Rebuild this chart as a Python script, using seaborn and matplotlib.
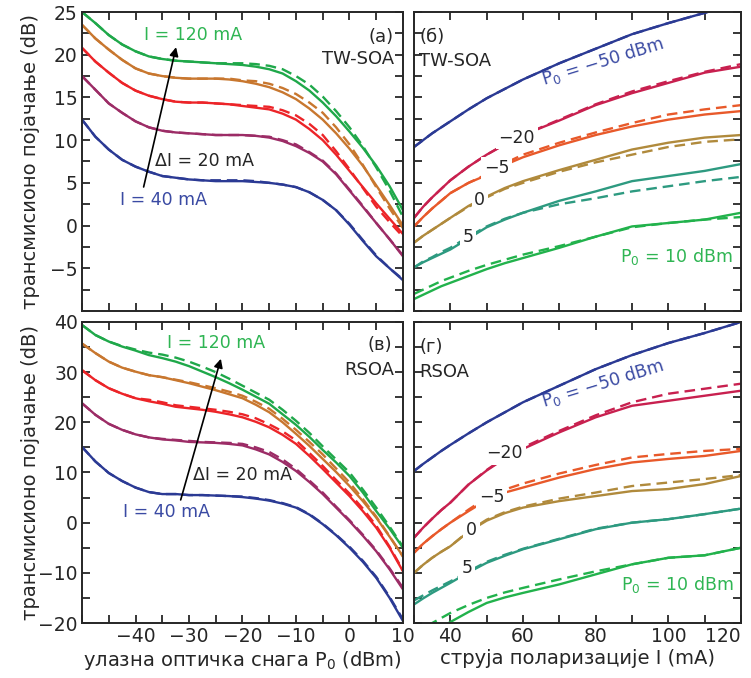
import matplotlib.pyplot as plt
import matplotlib.ticker as mticker
import seaborn as sns

# ---- data ----
# (а)/(в): gain vs input power P0, one curve per bias current (40..120 mA)
p_in = [-50, -47.5, -45, -42.5, -40, -37.5, -35, -32.5, -30, -27.5, -25, -22.5, -20,
        -17.5, -15, -12.5, -10, -7.5, -5, -2.5, 0, 2.5, 5, 7.5, 10]

tw_p_40 = [12.4, 10.4, 8.9, 7.7, 6.9, 6.3, 5.8, 5.6, 5.4, 5.3, 5.2, 5.2, 5.2,
           5.1, 5.0, 4.8, 4.5, 3.9, 3.0, 1.8, 0.1, -1.8, -3.6, -5.0, -6.4]
tw_p_60 = [17.5, 15.9, 14.3, 13.2, 12.2, 11.5, 11.1, 10.9, 10.8, 10.7, 10.6, 10.6, 10.6,
           10.5, 10.3, 9.9, 9.3, 8.5, 7.5, 6.0, 4.1, 2.2, 0.3, -1.6, -3.6]
tw_p_80 = [20.8, 19.2, 17.9, 16.7, 15.8, 15.2, 14.8, 14.5, 14.4, 14.4, 14.3, 14.2, 14.0,
           13.8, 13.6, 13.1, 12.4, 11.3, 10.0, 8.3, 6.4, 4.5, 2.6, 0.8, -1.0]
tw_p_100 = [23.5, 21.9, 20.6, 19.4, 18.4, 17.8, 17.5, 17.3, 17.2, 17.2, 17.2, 17.1, 16.9,
            16.6, 16.2, 15.6, 14.8, 13.7, 12.4, 10.8, 9.0, 7.0, 4.7, 2.4, 0.0]
tw_p_120 = [25.0, 23.7, 22.3, 21.2, 20.4, 19.8, 19.5, 19.3, 19.2, 19.1, 19.0, 18.9, 18.8,
            18.6, 18.3, 17.8, 16.9, 15.8, 14.4, 12.8, 11.0, 9.1, 7.0, 4.6, 1.8]

tw_p_40_fit = [12.4, 10.4, 8.9, 7.7, 6.9, 6.3, 5.8, 5.6, 5.4, 5.3, 5.3, 5.3, 5.3,
               5.2, 5.0, 4.8, 4.5, 3.9, 3.0, 1.8, 0.2, -1.7, -3.5, -5.0, -6.3]
tw_p_60_fit = [17.5, 15.9, 14.3, 13.2, 12.2, 11.5, 11.1, 10.9, 10.8, 10.7, 10.6, 10.6, 10.6,
               10.5, 10.4, 10.0, 9.5, 8.6, 7.6, 6.1, 4.2, 2.3, 0.3, -1.6, -3.5]
tw_p_80_fit = [20.8, 19.2, 17.9, 16.7, 15.8, 15.2, 14.8, 14.5, 14.4, 14.4, 14.3, 14.2, 14.1,
               14.0, 13.9, 13.5, 12.9, 11.9, 10.6, 8.7, 6.6, 4.4, 2.2, 0.4, -1.3]
tw_p_100_fit = [23.5, 21.9, 20.6, 19.4, 18.4, 17.8, 17.5, 17.3, 17.2, 17.2, 17.2, 17.2, 17.0,
                16.9, 16.6, 16.1, 15.4, 14.4, 13.2, 11.5, 9.5, 7.1, 4.5, 2.0, -0.3]
tw_p_120_fit = [25.0, 23.7, 22.3, 21.2, 20.4, 19.8, 19.5, 19.3, 19.2, 19.1, 19.0, 19.0, 19.0,
                18.9, 18.7, 18.3, 17.5, 16.5, 15.1, 13.4, 11.5, 9.3, 6.8, 4.1, 1.0]

rs_p_40 = [15.1, 12.2, 9.9, 8.3, 7.0, 6.1, 5.7, 5.7, 5.5, 5.5, 5.4, 5.3, 5.1,
           4.8, 4.4, 3.8, 3.0, 1.6, -0.3, -2.5, -5.0, -7.8, -11.0, -15.0, -19.6]
rs_p_60 = [23.8, 21.5, 19.7, 18.5, 17.6, 17.0, 16.6, 16.4, 16.1, 16.0, 15.9, 15.7, 15.4,
           14.6, 13.6, 12.1, 10.3, 8.1, 5.7, 3.0, 0.3, -2.6, -5.7, -9.3, -13.3]
rs_p_80 = [30.4, 28.4, 26.8, 25.7, 24.8, 24.2, 23.7, 23.1, 22.8, 22.5, 22.1, 21.6, 21.0,
           20.1, 19.0, 17.5, 15.7, 13.3, 10.7, 8.0, 5.3, 2.3, -1.0, -5.0, -9.7]
rs_p_100 = [35.7, 33.8, 32.1, 30.9, 30.1, 29.4, 29.0, 28.4, 27.8, 27.1, 26.4, 25.6, 24.8,
            23.5, 22.0, 20.0, 17.7, 15.3, 12.7, 10.1, 7.3, 4.3, 1.0, -2.8, -6.7]
rs_p_120 = [39.4, 37.4, 36.1, 35.1, 34.3, 33.4, 32.8, 32.1, 31.2, 30.1, 29.0, 27.8, 26.5,
            25.1, 23.7, 21.6, 19.5, 17.1, 14.5, 12.0, 9.3, 6.0, 2.3, -1.2, -5.0]

rs_p_40_fit = [15.1, 12.2, 9.9, 8.3, 7.0, 6.1, 5.7, 5.7, 5.5, 5.5, 5.4, 5.3, 5.2,
               4.9, 4.5, 3.9, 3.1, 1.7, -0.2, -2.4, -4.8, -7.6, -10.8, -14.8, -19.3]
rs_p_60_fit = [23.8, 21.5, 19.7, 18.5, 17.6, 17.0, 16.7, 16.5, 16.3, 16.1, 16.0, 15.9, 15.7,
               15.0, 14.1, 12.6, 10.7, 8.4, 6.0, 3.2, 0.5, -2.4, -5.5, -9.1, -13.0]
rs_p_80_fit = [30.4, 28.4, 26.8, 25.7, 24.8, 24.5, 24.0, 23.4, 23.1, 22.8, 22.5, 22.1, 21.6,
               20.8, 19.6, 18.2, 16.4, 13.9, 11.3, 8.5, 5.8, 2.8, -0.6, -4.8, -9.5]
rs_p_100_fit = [35.7, 33.8, 32.1, 30.9, 30.1, 29.4, 29.0, 28.5, 28.0, 27.4, 26.8, 26.1, 25.3,
                24.1, 22.7, 20.7, 18.5, 16.1, 13.6, 10.8, 8.0, 4.7, 1.2, -2.7, -6.8]
rs_p_120_fit = [39.4, 37.4, 36.1, 35.2, 34.5, 33.9, 33.5, 32.9, 32.1, 31.1, 30.0, 28.7, 27.3,
                25.9, 24.5, 22.5, 20.3, 17.9, 15.2, 12.6, 10.0, 6.6, 3.0, -0.8, -4.8]

# (б)/(г): gain vs bias current I, one curve per input power (-50..10 dBm)
bias = [30, 32.5, 35, 37.5, 40, 45, 50, 55, 60, 70, 80, 90, 100, 110, 120]

tw_i_m50 = [9.2, 10.0, 10.8, 11.5, 12.2, 13.6, 14.9, 16.0, 17.1, 19.0, 20.7, 22.4, 23.7, 24.9, 26.1]
tw_i_m20 = [0.9, 2.2, 3.3, 4.3, 5.3, 6.9, 8.3, 9.5, 10.6, 12.3, 14.1, 15.5, 16.7, 17.9, 18.6]
tw_i_m5 = [-0.1, 1.0, 2.0, 2.9, 3.8, 5.0, 5.9, 7.1, 8.0, 9.4, 10.6, 11.6, 12.4, 13.0, 13.4]
tw_i_0 = [-2.0, -1.2, -0.5, 0.2, 0.9, 2.3, 3.4, 4.4, 5.2, 6.5, 7.7, 8.9, 9.7, 10.3, 10.6]
tw_i_5 = [-4.9, -4.3, -3.8, -3.3, -2.8, -1.5, -0.2, 0.7, 1.5, 2.9, 4.0, 5.2, 5.8, 6.4, 7.2]
tw_i_10 = [-8.6, -8.1, -7.6, -7.1, -6.7, -5.9, -5.1, -4.4, -3.8, -2.6, -1.3, -0.1, 0.3, 0.7, 1.5]

tw_i_m50_fit = [9.2, 10.0, 10.8, 11.5, 12.2, 13.6, 14.9, 16.0, 17.1, 19.0, 20.7, 22.4, 23.7, 24.9, 26.1]
tw_i_m20_fit = [0.9, 2.2, 3.3, 4.3, 5.3, 6.9, 8.3, 9.5, 10.6, 12.4, 14.2, 15.7, 16.9, 18.0, 18.9]
tw_i_m5_fit = [-0.1, 1.0, 2.0, 2.9, 3.8, 5.0, 6.0, 7.3, 8.3, 9.7, 10.9, 12.0, 13.0, 13.6, 14.1]
tw_i_0_fit = [-2.0, -1.2, -0.5, 0.2, 0.9, 2.2, 3.3, 4.3, 5.0, 6.3, 7.4, 8.3, 9.2, 9.8, 10.1]
tw_i_5_fit = [-4.9, -4.2, -3.7, -3.1, -2.6, -1.3, -0.1, 0.8, 1.5, 2.5, 3.2, 4.0, 4.6, 5.2, 5.7]
tw_i_10_fit = [-8.0, -7.5, -7.0, -6.5, -6.1, -5.3, -4.6, -4.0, -3.4, -2.4, -1.3, -0.2, 0.3, 0.7, 1.0]

rs_i_m50 = [10.3, 11.7, 13.0, 14.3, 15.5, 17.8, 20.0, 22.0, 24.0, 27.3, 30.6, 33.4, 35.8, 37.8, 40.0]
rs_i_m20 = [-3.0, -1.0, 0.8, 2.5, 4.0, 7.6, 10.4, 12.8, 14.7, 18.0, 21.0, 23.3, 24.3, 25.3, 26.3]
rs_i_m5 = [-6.0, -4.2, -2.7, -1.3, 0.0, 2.3, 4.5, 6.0, 7.0, 9.0, 10.7, 12.0, 12.7, 13.3, 14.3]
rs_i_0 = [-10.0, -8.4, -7.0, -5.8, -4.7, -1.8, 0.4, 1.9, 3.0, 4.3, 5.3, 6.3, 6.7, 7.7, 9.3]
rs_i_5 = [-16.3, -15.1, -14.0, -13.0, -12.0, -9.9, -8.0, -6.6, -5.3, -3.3, -1.3, 0.0, 0.7, 1.7, 2.8]
rs_i_10 = [-24.5, -23.2, -22.0, -20.9, -19.8, -17.8, -16.0, -14.9, -14.0, -12.3, -10.3, -8.3, -7.0, -6.5, -5.0]

rs_i_m50_fit = [10.3, 11.7, 13.0, 14.3, 15.5, 17.8, 20.0, 22.0, 24.0, 27.3, 30.6, 33.4, 35.8, 37.8, 40.0]
rs_i_m20_fit = [-3.0, -1.0, 0.8, 2.5, 4.0, 7.6, 10.5, 13.0, 15.0, 18.3, 21.4, 24.0, 25.7, 26.7, 27.7]
rs_i_m5_fit = [-6.0, -4.2, -2.7, -1.3, 0.0, 2.6, 5.0, 6.6, 7.8, 9.8, 11.5, 13.0, 13.7, 14.3, 14.7]
rs_i_0_fit = [-10.0, -8.4, -7.0, -5.8, -4.7, -1.7, 0.6, 2.1, 3.2, 4.8, 6.0, 7.3, 8.0, 8.7, 9.5]
rs_i_5_fit = [-15.5, -14.5, -13.5, -12.6, -11.7, -9.7, -7.8, -6.4, -5.2, -3.2, -1.2, 0.0, 0.7, 1.7, 2.8]
rs_i_10_fit = [-22.5, -21.2, -20.0, -19.0, -18.0, -16.4, -15.0, -13.9, -13.0, -11.3, -9.7, -8.3, -7.0, -6.5, -5.0]

# colours
cur_colors = ['#2b3a94', '#9c2c66', '#ec2428', '#c8772f', '#1fa84a']
pow_colors = ['#2b3a94', '#c8204f', '#e8592a', '#b08a3c', '#2d9a80', '#22b24c']
txt_blue = '#3a4aa3'
txt_green = '#2fb553'

sns.set_style("ticks")
plt.rcParams['font.family'] = ['DejaVu Sans']
plt.rcParams['mathtext.default'] = 'regular'

FS = 13.5    # tick labels
LFS = 14     # axis labels
AFS = 12.5   # annotations
PFS = 13     # panel names

fig = plt.figure(figsize=(7.51, 6.78), dpi=100)
ax_a = fig.add_axes([0.1092, 0.5413, 0.4274, 0.441])
ax_b = fig.add_axes([0.5513, 0.5413, 0.4354, 0.441])
ax_c = fig.add_axes([0.1092, 0.0811, 0.4274, 0.444])
ax_d = fig.add_axes([0.5513, 0.0811, 0.4354, 0.444])

LW = 1.7
DASH = (0, (4.5, 2.5))


def draw(ax, x, solids, fits, colors):
    for ys, yf, c in zip(solids, fits, colors):
        sns.lineplot(x=x, y=ys, ax=ax, color=c, lw=LW, zorder=2)
        sns.lineplot(x=x, y=yf, ax=ax, color=c, lw=LW, linestyle=DASH, zorder=2)


draw(ax_a, p_in, [tw_p_40, tw_p_60, tw_p_80, tw_p_100, tw_p_120],
     [tw_p_40_fit, tw_p_60_fit, tw_p_80_fit, tw_p_100_fit, tw_p_120_fit], cur_colors)
draw(ax_c, p_in, [rs_p_40, rs_p_60, rs_p_80, rs_p_100, rs_p_120],
     [rs_p_40_fit, rs_p_60_fit, rs_p_80_fit, rs_p_100_fit, rs_p_120_fit], cur_colors)
draw(ax_b, bias, [tw_i_m50, tw_i_m20, tw_i_m5, tw_i_0, tw_i_5, tw_i_10],
     [tw_i_m50_fit, tw_i_m20_fit, tw_i_m5_fit, tw_i_0_fit, tw_i_5_fit, tw_i_10_fit], pow_colors)
draw(ax_d, bias, [rs_i_m50, rs_i_m20, rs_i_m5, rs_i_0, rs_i_5, rs_i_10],
     [rs_i_m50_fit, rs_i_m20_fit, rs_i_m5_fit, rs_i_0_fit, rs_i_5_fit, rs_i_10_fit], pow_colors)

# axes ranges / ticks
for ax in (ax_a, ax_c):
    ax.set_xlim(-50, 10)
    ax.xaxis.set_major_locator(mticker.MultipleLocator(10))
    ax.xaxis.set_minor_locator(mticker.MultipleLocator(5))
for ax in (ax_b, ax_d):
    ax.set_xlim(30, 120)
    ax.xaxis.set_major_locator(mticker.MultipleLocator(20))
    ax.xaxis.set_minor_locator(mticker.MultipleLocator(10))
for ax in (ax_a, ax_b):
    ax.set_ylim(-10, 25)
    ax.yaxis.set_major_locator(mticker.MultipleLocator(5))
    ax.yaxis.set_minor_locator(mticker.MultipleLocator(2.5))
    ax.tick_params(labelbottom=False)
for ax in (ax_c, ax_d):
    ax.set_ylim(-20, 40)
    ax.yaxis.set_major_locator(mticker.MultipleLocator(10))
    ax.yaxis.set_minor_locator(mticker.MultipleLocator(5))
for ax in (ax_b, ax_d):
    ax.tick_params(labelleft=False)


def fmt_hide(lo):
    return mticker.FuncFormatter(lambda v, p: '' if v <= lo + 1e-9 else f'{v:g}'.replace('-', '\u2212'))


ax_a.yaxis.set_major_formatter(fmt_hide(-10))
ax_c.xaxis.set_major_formatter(fmt_hide(-50))
ax_d.xaxis.set_major_formatter(fmt_hide(30))

for ax in (ax_a, ax_b, ax_c, ax_d):
    ax.tick_params(which='both', direction='in', top=True, right=True,
                   length=6, width=1.3, labelsize=FS, pad=3)
    for s in ax.spines.values():
        s.set_linewidth(1.4)
    ax.set_xlabel('')
    ax.set_ylabel('')

ylab = 'трансмисионо појачање (dB)'
ax_a.set_ylabel(ylab, fontsize=LFS)
ax_c.set_ylabel(ylab, fontsize=LFS)
ax_a.yaxis.set_label_coords(-0.13, 0.5)
ax_c.yaxis.set_label_coords(-0.13, 0.5)
ax_c.set_xlabel('улазна оптичка снага P$_0$ (dBm)', fontsize=LFS, labelpad=2)
ax_d.set_xlabel('струја поларизације I (mA)', fontsize=LFS, labelpad=2)

# panel (а)
ax_a.text(8.2, 22.1, '(а)', fontsize=PFS, ha='right', va='center')
ax_a.text(8.4, 19.5, 'TW-SOA', fontsize=PFS, ha='right', va='center')
ax_a.text(-29.2, 22.3, 'I = 120 mA', color=txt_green, fontsize=AFS, ha='center', va='center')
ax_a.text(-36.4, 7.5, 'ΔI = 20 mA', fontsize=AFS, ha='left', va='center')
ax_a.text(-42.9, 3.0, 'I = 40 mA', color=txt_blue, fontsize=AFS, ha='left', va='center')
ax_a.annotate('', xy=(-32.3, 21.2), xytext=(-38.6, 4.2),
              arrowprops=dict(arrowstyle='-|>', color='black', lw=1.2, mutation_scale=13))

# panel (в)
ax_c.text(8.0, 35.4, '(в)', fontsize=PFS, ha='right', va='center')
ax_c.text(8.4, 30.4, 'RSOA', fontsize=PFS, ha='right', va='center')
ax_c.text(-25.0, 35.8, 'I = 120 mA', color=txt_green, fontsize=AFS, ha='center', va='center')
ax_c.text(-29.3, 9.5, 'ΔI = 20 mA', fontsize=AFS, ha='left', va='center')
ax_c.text(-42.4, 2.2, 'I = 40 mA', color=txt_blue, fontsize=AFS, ha='left', va='center')
ax_c.annotate('', xy=(-23.9, 33.2), xytext=(-31.7, 4.0),
              arrowprops=dict(arrowstyle='-|>', color='black', lw=1.2, mutation_scale=13))

box = dict(facecolor='white', edgecolor='none', pad=2.0)

# panel (б)
ax_b.text(31.5, 22.1, '(б)', fontsize=PFS, ha='left', va='center')
ax_b.text(31.5, 19.3, 'TW-SOA', fontsize=PFS, ha='left', va='center')
ax_b.text(81.9, 19.2, 'P$_0$ = \u221250 dBm', color=txt_blue, fontsize=AFS,
          ha='center', va='center', rotation=17)
ax_b.text(102.3, -3.6, 'P$_0$ = 10 dBm', color=txt_green, fontsize=AFS, ha='center', va='center')
for xv, yv, s in [(58.3, 10.3, '\u221220'), (52.7, 6.7, '\u22125'), (48.1, 3.0, '0'), (44.8, -1.3, '5')]:
    ax_b.text(xv, yv, s, fontsize=AFS, ha='center', va='center', bbox=box, zorder=5)

# panel (г)
ax_d.text(31.5, 35.1, '(г)', fontsize=PFS, ha='left', va='center')
ax_d.text(31.5, 30.1, 'RSOA', fontsize=PFS, ha='left', va='center')
ax_d.text(81.9, 27.8, 'P$_0$ = \u221250 dBm', color=txt_blue, fontsize=AFS,
          ha='center', va='center', rotation=17)
ax_d.text(102.5, -12.4, 'P$_0$ = 10 dBm', color=txt_green, fontsize=AFS, ha='center', va='center')
for xv, yv, s in [(55.0, 13.9, '\u221220'), (51.3, 5.2, '\u22125'), (45.8, -1.4, '0'), (44.5, -9.1, '5')]:
    ax_d.text(xv, yv, s, fontsize=AFS, ha='center', va='center', bbox=box, zorder=5)

# last tick label of the right panel sits flush with the frame
fig.canvas.draw()
for lab in ax_d.get_xticklabels():
    if lab.get_text() == '120':
        lab.set_horizontalalignment('right')
        lab.set_x(lab.get_position()[0])

fig.savefig('out.png', dpi=100)
